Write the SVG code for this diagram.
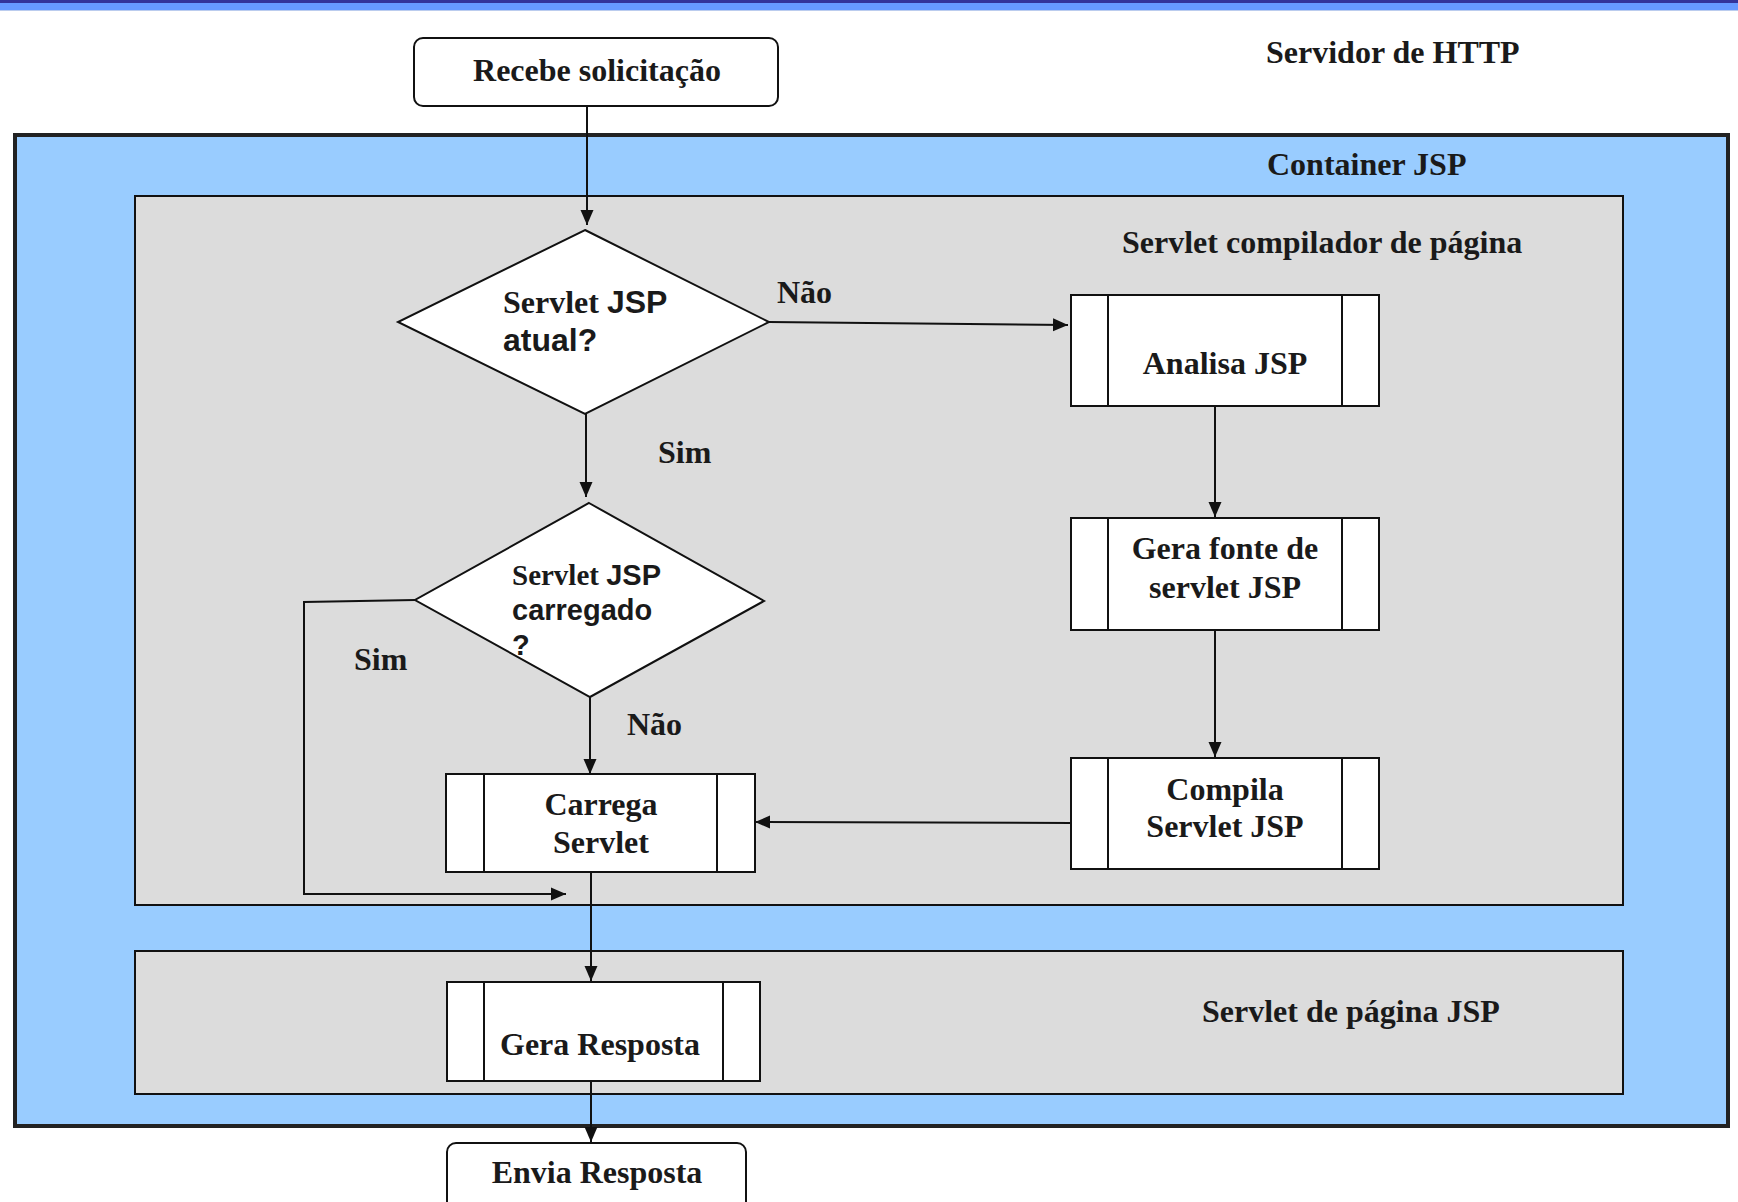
<svg xmlns="http://www.w3.org/2000/svg" width="1738" height="1202" viewBox="0 0 1738 1202">
  <defs>
    <marker id="arrow" markerUnits="userSpaceOnUse" markerWidth="15" markerHeight="16" refX="15" refY="8" orient="auto">
      <path d="M0,1.5 L15,8 L0,14.5 z" fill="#111"/>
    </marker>
    <style>
      .t { font-family: "Liberation Serif", "Times New Roman", serif; font-weight: bold; font-size: 32px; fill: #1a1a1a; }
      .s { font-family: "Liberation Sans", Arial, sans-serif; font-weight: bold; fill: #1a1a1a; }
      .mid { text-anchor: middle; }
      .box { fill: #fff; stroke: #111; stroke-width: 2; }
      .band { stroke: #111; stroke-width: 2; }
      .lane { fill: #dcdcdc; stroke: #111; stroke-width: 2; }
      .conn { fill: none; stroke: #111; stroke-width: 2; }
    </style>
  </defs>

  <rect width="1738" height="1202" fill="#fff"/>

  <!-- title bar -->
  <rect x="0" y="0" width="1738" height="3" fill="#333399"/>
  <rect x="0" y="3" width="1738" height="7" fill="#6699ff"/>
  <rect x="0" y="10" width="1738" height="1" fill="#bbccee"/>

  <!-- server / container areas -->
  <g id="servidor-http">
    <text class="t" x="1266" y="63">Servidor de HTTP</text>
  </g>
  <g id="container-jsp">
    <rect x="15" y="135" width="1713" height="991" fill="#99ccff" stroke="#222" stroke-width="4"/>
    <text class="t" x="1267" y="175">Container JSP</text>
  </g>
  <g id="servlet-compilador">
    <rect class="lane" x="135" y="196" width="1488" height="709"/>
    <text class="t" x="1122" y="253">Servlet compilador de página</text>
  </g>
  <g id="servlet-pagina">
    <rect class="lane" x="135" y="951" width="1488" height="143"/>
    <text class="t" x="1202" y="1022">Servlet de página JSP</text>
  </g>

  <!-- connectors -->
  <g id="connectors">
    <line class="conn" x1="587" y1="106" x2="587" y2="225" marker-end="url(#arrow)"/>
    <line class="conn" x1="769" y1="322" x2="1068" y2="325" marker-end="url(#arrow)"/>
    <line class="conn" x1="586" y1="414" x2="586" y2="497" marker-end="url(#arrow)"/>
    <polyline class="conn" points="415,600 304,602 304,894 566,894" marker-end="url(#arrow)"/>
    <line class="conn" x1="590" y1="697" x2="590" y2="774" marker-end="url(#arrow)"/>
    <line class="conn" x1="1215" y1="406" x2="1215" y2="517" marker-end="url(#arrow)"/>
    <line class="conn" x1="1215" y1="630" x2="1215" y2="757" marker-end="url(#arrow)"/>
    <line class="conn" x1="1071" y1="823" x2="755" y2="822" marker-end="url(#arrow)"/>
    <line class="conn" x1="591" y1="872" x2="591" y2="981" marker-end="url(#arrow)"/>
    <line class="conn" x1="591" y1="1081" x2="591" y2="1142" marker-end="url(#arrow)"/>
    <text class="t" x="777" y="303">Não</text>
    <text class="t" x="658" y="463">Sim</text>
    <text class="t" x="354" y="670">Sim</text>
    <text class="t" x="627" y="735">Não</text>
  </g>

  <!-- nodes -->
  <g id="recebe-solicitacao">
    <rect class="box" x="414" y="38" width="364" height="68" rx="9"/>
    <text class="t mid" x="597" y="81">Recebe solicitação</text>
  </g>

  <g id="servlet-atual">
    <polygon class="box" points="585,230 769,322 585,414 398,322"/>
    <text x="503" y="313"><tspan class="t">Servlet </tspan><tspan class="s" font-size="32">JSP</tspan></text>
    <text class="s" font-size="32" x="503" y="351">atual?</text>
  </g>

  <g id="servlet-carregado">
    <polygon class="box" points="589,503 764,601 590,697 415,600"/>
    <text x="512" y="585"><tspan class="t" style="font-size:29px">Servlet </tspan><tspan class="s" font-size="29">JSP</tspan></text>
    <text class="s" font-size="29" x="512" y="620">carregado</text>
    <text class="s" font-size="29" x="512" y="655">?</text>
  </g>

  <g id="analisa-jsp">
    <rect class="box" x="1071" y="295" width="308" height="111"/>
    <line class="band" x1="1108" y1="295" x2="1108" y2="406"/>
    <line class="band" x1="1342" y1="295" x2="1342" y2="406"/>
    <text class="t mid" x="1225" y="374">Analisa JSP</text>
  </g>

  <g id="gera-fonte">
    <rect class="box" x="1071" y="518" width="308" height="112"/>
    <line class="band" x1="1108" y1="518" x2="1108" y2="630"/>
    <line class="band" x1="1342" y1="518" x2="1342" y2="630"/>
    <text class="t mid" x="1225" y="559">Gera fonte de</text>
    <text class="t mid" x="1225" y="598">servlet JSP</text>
  </g>

  <g id="compila-servlet">
    <rect class="box" x="1071" y="758" width="308" height="111"/>
    <line class="band" x1="1108" y1="758" x2="1108" y2="869"/>
    <line class="band" x1="1342" y1="758" x2="1342" y2="869"/>
    <text class="t mid" x="1225" y="800">Compila</text>
    <text class="t mid" x="1225" y="837">Servlet JSP</text>
  </g>

  <g id="carrega-servlet">
    <rect class="box" x="446" y="774" width="309" height="98"/>
    <line class="band" x1="484" y1="774" x2="484" y2="872"/>
    <line class="band" x1="717" y1="774" x2="717" y2="872"/>
    <text class="t mid" x="601" y="815">Carrega</text>
    <text class="t mid" x="601" y="853">Servlet</text>
  </g>

  <g id="gera-resposta">
    <rect class="box" x="447" y="982" width="313" height="99"/>
    <line class="band" x1="484" y1="982" x2="484" y2="1081"/>
    <line class="band" x1="723" y1="982" x2="723" y2="1081"/>
    <text class="t mid" x="600" y="1055">Gera Resposta</text>
  </g>

  <g id="envia-resposta">
    <rect class="box" x="447" y="1143" width="299" height="72" rx="9"/>
    <text class="t mid" x="597" y="1183">Envia Resposta</text>
  </g>
</svg>
